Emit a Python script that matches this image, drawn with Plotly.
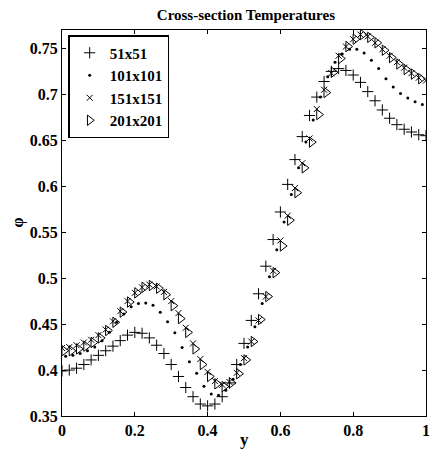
import plotly.graph_objects as go

# --- data ---
x_51 = [round(0.02 * k, 3) for k in range(51)]
t_51 = [0.399, 0.400, 0.402, 0.406, 0.411, 0.416, 0.421, 0.426, 0.432, 0.438,
        0.441, 0.440, 0.435, 0.427, 0.418, 0.406, 0.393, 0.381, 0.371, 0.363,
        0.361, 0.363, 0.371, 0.386, 0.406, 0.429, 0.454, 0.483, 0.513, 0.542,
        0.572, 0.602, 0.629, 0.654, 0.677, 0.697, 0.714, 0.725, 0.728, 0.726,
        0.721, 0.713, 0.703, 0.693, 0.683, 0.674, 0.667, 0.662, 0.659, 0.656,
        0.655]

x_101 = [round(0.01 + 0.02 * k, 3) for k in range(50)]
t_101 = [0.415, 0.416, 0.418, 0.421, 0.425, 0.432, 0.441, 0.452, 0.461, 0.469,
         0.4725, 0.473, 0.4705, 0.463, 0.4525, 0.4405, 0.4245, 0.409, 0.3965, 0.3825,
         0.374, 0.3725, 0.378, 0.390, 0.406, 0.425, 0.447, 0.4725, 0.5015, 0.531,
         0.561, 0.591, 0.620, 0.648, 0.672, 0.697, 0.719, 0.735, 0.744, 0.749,
         0.749, 0.745, 0.737, 0.728, 0.717, 0.708, 0.701, 0.696, 0.692, 0.689]

x_151 = [round(0.02 * k, 3) for k in range(51)]
t_151 = [0.424, 0.425, 0.427, 0.430, 0.433, 0.438, 0.444, 0.453, 0.464, 0.475,
         0.484, 0.490, 0.493, 0.491, 0.485, 0.475, 0.462, 0.446, 0.429, 0.412,
         0.398, 0.388, 0.384, 0.387, 0.397, 0.413, 0.431, 0.454, 0.480, 0.508,
         0.541, 0.568, 0.598, 0.625, 0.652, 0.684, 0.705, 0.723, 0.742, 0.752,
         0.760, 0.765, 0.763, 0.756, 0.749, 0.742, 0.735, 0.729, 0.723, 0.718,
         0.715]

x_201 = [round(0.006 + 0.02 * k, 3) for k in range(50)]
t_201 = [0.421, 0.421, 0.423, 0.426, 0.430, 0.435, 0.443, 0.452, 0.463, 0.474,
         0.484, 0.490, 0.492, 0.489, 0.482, 0.470, 0.456, 0.441, 0.423, 0.406,
         0.393, 0.385, 0.382, 0.386, 0.396, 0.411, 0.431, 0.455, 0.480, 0.506,
         0.535, 0.563, 0.593, 0.620, 0.648, 0.678, 0.702, 0.724, 0.739, 0.752,
         0.760, 0.765, 0.762, 0.756, 0.748, 0.740, 0.733, 0.727, 0.722, 0.717]

names = ["51x51", "101x101", "151x151", "201x201"]
x_ticks = [0, 0.2, 0.4, 0.6, 0.8, 1]
y_ticks = [0.35, 0.4, 0.45, 0.5, 0.55, 0.6, 0.65, 0.7, 0.75]

FONT = "Liberation Serif"

fig = go.Figure()
fig.add_trace(go.Scatter(x=x_51, y=t_51, mode="markers", name=names[0],
                         marker=dict(symbol="cross-thin", size=8, color="black",
                                     line=dict(width=1, color="black"))))
fig.add_trace(go.Scatter(x=x_101, y=t_101, mode="markers", name=names[1],
                         marker=dict(symbol="circle", size=3, color="black",
                                     line=dict(width=0))))
fig.add_trace(go.Scatter(x=x_151, y=t_151, mode="markers", name=names[2],
                         marker=dict(symbol="x-thin", size=6, color="black",
                                     line=dict(width=1, color="black"))))
fig.add_trace(go.Scatter(x=x_201, y=t_201, mode="markers", name=names[3],
                         marker=dict(symbol="triangle-right-open", size=9, color="black",
                                     line=dict(width=1, color="black"))))

axis_common = dict(showline=True, linecolor="black", linewidth=1, mirror="ticks",
                   ticks="inside", ticklen=4, tickcolor="black", tickwidth=1,
                   showgrid=False, zeroline=False,
                   tickfont=dict(family=FONT, size=16, color="black", weight="bold"))

fig.update_layout(
    width=434, height=458,
    margin=dict(l=62, r=4, t=30, b=42),
    paper_bgcolor="white", plot_bgcolor="white",
    title=dict(text="Cross-section Temperatures", x=0.5666, xanchor="center",
               y=0.967, yanchor="middle",
               font=dict(family=FONT, size=15, color="black", weight="bold")),
    xaxis=dict(range=[0, 1], tickvals=x_ticks, **axis_common),
    yaxis=dict(range=[0.35, 0.77], tickvals=y_ticks, **axis_common),
    legend=dict(x=0.017, y=0.987, xanchor="left", yanchor="top",
                bordercolor="black", borderwidth=1.5, bgcolor="white",
                font=dict(family=FONT, size=15, color="black", weight="bold")),
    showlegend=True,
    annotations=[
        dict(text="φ", textangle=-90, xref="paper", yref="paper",
             x=-0.122, y=0.5, xanchor="center", yanchor="middle", showarrow=False,
             font=dict(family=FONT, size=16, color="black", weight="bold")),
        dict(text="y", xref="paper", yref="paper",
             x=0.5, y=-0.062, xanchor="center", yanchor="middle", showarrow=False,
             font=dict(family=FONT, size=17, color="black", weight="bold")),
    ],
)

fig.write_html("out.html")
